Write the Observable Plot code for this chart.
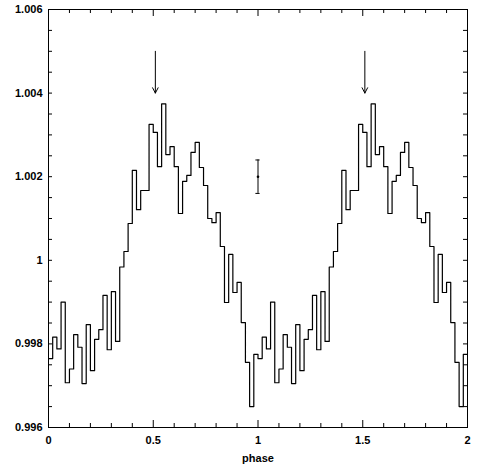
<!DOCTYPE html>
<html><head><meta charset="utf-8">
<script src="https://cdn.jsdelivr.net/npm/d3@7"></script>
<script src="https://cdn.jsdelivr.net/npm/@observablehq/plot@0.6"></script>
<style>body{margin:0;background:#fff}</style>
</head><body><div id="chart"></div>
<script>
// ---- data ----
const binWidth = 0.02;               // phase bin width
const cycles = [0, 1];               // phase 0-1 is repeated for 1-2
const fluxPerBin = [
  0.99765, 0.99816, 0.99788, 0.99900, 0.99707, 0.99740, 0.99822, 0.99792, 0.99705, 0.99846,
  0.99736, 0.99811, 0.99834, 0.99916, 0.99786, 0.99925, 0.99806, 0.99984, 1.00021, 1.00088,
  1.00215, 1.00121, 1.00167, 1.00167, 1.00325, 1.00306, 1.00224, 1.00374, 1.00253, 1.00272,
  1.00224, 1.00112, 1.00189, 1.00203, 1.00258, 1.00282, 1.00222, 1.00179, 1.00100, 1.00090,
  1.00114, 1.00033, 0.99899, 1.00014, 0.99923, 0.99947, 0.99851, 0.99756, 0.99650, 0.99775
];
const arrowPhases = [0.51, 1.51];
const arrowFrom = 1.005;
const arrowTo = 1.004;
const errorBars = [{phase: 1.0, flux: 1.0020, lo: 1.0016, hi: 1.0024}];
const yTickValues = [0.996, 0.998, 1.000, 1.002, 1.004, 1.006];
const yTickLabels = ["0.996", "0.998", "1", "1.002", "1.004", "1.006"];
const xTickValues = [0, 0.5, 1, 1.5, 2];
const xTickLabels = ["0", "0.5", "1", "1.5", "2"];
const xTitle = "phase";

// ---- build table ----
const points = cycles.flatMap(c => fluxPerBin.map((v, k) => ({phase: c + k * binWidth, flux: v})));
points.push({phase: cycles.length, flux: fluxPerBin[fluxPerBin.length - 1]});

const yMinor = d3.range(0, 21).map(i => +(0.996 + i * 0.0005).toFixed(4));
const xAll = d3.range(0, 21).map(i => +(i * 0.1).toFixed(1));
const xMajor = xAll.filter(v => Math.abs(v * 2 - Math.round(v * 2)) < 1e-9);
const xMinor = xAll.filter(v => !xMajor.includes(v));

const W = 480, H = 466, mL = 48, mR = 13, mT = 9, mB = 39;
const iW = W - mL - mR, iH = H - mT - mB;
const fmt = (vals, labs) => d => labs[vals.findIndex(v => Math.abs(v - d) < 1e-9)];

const chart = Plot.plot({
  width: W, height: H,
  marginLeft: mL, marginRight: mR, marginTop: mT, marginBottom: mB,
  x: {domain: [0, 2]},
  y: {domain: [0.996, 1.006]},
  style: {fontFamily: "'Liberation Sans', Arial, sans-serif", fontSize: "11px", fontWeight: "bold", background: "#fff", color: "#000"},
  marks: [
    Plot.frame({stroke: "#000", strokeWidth: 1}),
    Plot.tickY(yMinor, {y: d => d, insetRight: iW - 4, stroke: "#000"}),
    Plot.tickY(yMinor, {y: d => d, insetLeft: iW - 4, stroke: "#000"}),
    Plot.tickX(xMinor, {x: d => d, insetTop: iH - 4, stroke: "#000"}),
    Plot.tickX(xMajor, {x: d => d, insetTop: iH - 7, stroke: "#000"}),
    Plot.tickX(xMinor, {x: d => d, insetBottom: iH - 4, stroke: "#000"}),
    Plot.tickX(xMajor, {x: d => d, insetBottom: iH - 7, stroke: "#000"}),
    Plot.axisY({ticks: yTickValues, tickSize: 0, tickPadding: 6, tickFormat: fmt(yTickValues, yTickLabels), label: null}),
    Plot.axisX({ticks: xTickValues, tickSize: 0, tickPadding: 9, tickFormat: fmt(xTickValues, xTickLabels), label: null}),
    Plot.line(points, {x: "phase", y: "flux", curve: "step-after", stroke: "#000", strokeWidth: 1.2}),
    Plot.arrow(arrowPhases, {x1: d => d, x2: d => d, y1: arrowFrom, y2: arrowTo, stroke: "#000", strokeWidth: 1, headLength: 9, headAngle: 55}),
    Plot.ruleX(errorBars, {x: "phase", y1: "lo", y2: "hi", stroke: "#000"}),
    Plot.ruleY(errorBars, {y: "lo", x1: d => d.phase - 0.01, x2: d => d.phase + 0.01, stroke: "#000"}),
    Plot.ruleY(errorBars, {y: "hi", x1: d => d.phase - 0.01, x2: d => d.phase + 0.01, stroke: "#000"}),
    Plot.dot(errorBars, {x: "phase", y: "flux", r: 1.3, fill: "#000"}),
    Plot.text([xTitle], {text: d => d, frameAnchor: "bottom", dy: 34, lineAnchor: "bottom", fontSize: 11, fontWeight: "bold"})
  ]
});
document.getElementById("chart").appendChild(chart);
</script>
</body></html>
